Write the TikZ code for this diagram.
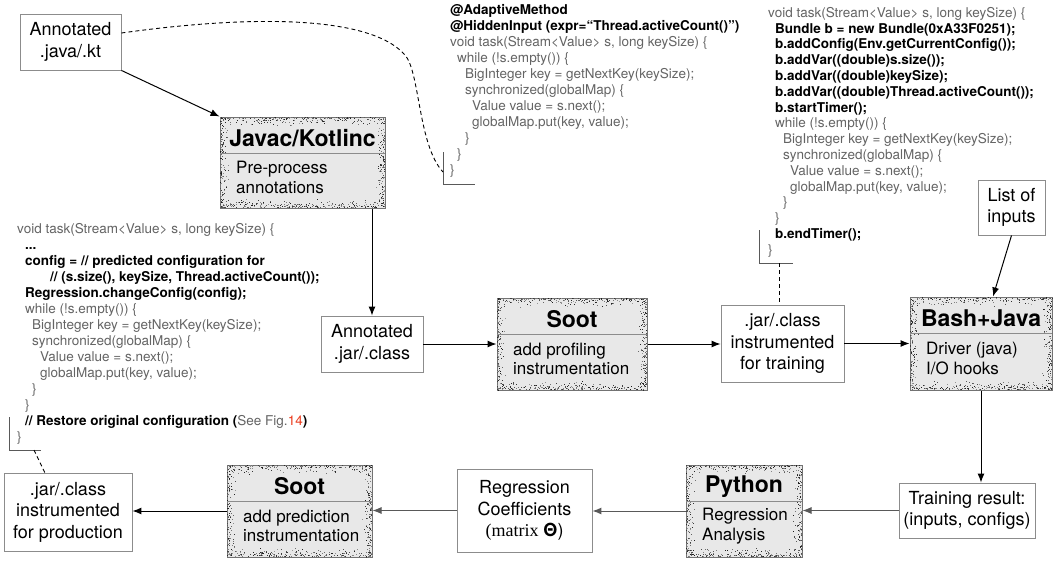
\documentclass[tikz,border=0pt]{standalone}
\usepackage{fontspec}
\setmainfont{TeX Gyre Heros}
\newfontfamily\seriffont{Liberation Serif}
\usetikzlibrary{arrows.meta,calc}
\definecolor{codegray}{RGB}{100,100,100}
\definecolor{figred}{RGB}{235,60,30}
\definecolor{boxborder}{RGB}{140,140,140}
\definecolor{shadefill}{RGB}{232,232,232}
\newcommand\cg[1]{{\color{codegray}#1}}
\newcommand\cb[1]{{\bfseries #1}}
\tikzset{
  plainbox/.style={draw=boxborder, line width=0.9pt, fill=white, align=center, inner sep=0pt, font=\fontsize{18}{21.5}\selectfont},
  shadebox/.style={draw=black!55, line width=1pt, fill=shadefill, inner sep=0pt},
  headtext/.style={font=\fontsize{23}{26}\selectfont\bfseries, inner sep=0pt},
  bodytext/.style={font=\fontsize{17}{19.5}\selectfont, align=left, inner sep=0pt, anchor=west},
  divline/.style={draw=black!45, line width=0.8pt},
  arr/.style={-{Latex[length=9pt,width=7pt]}, line width=1pt, draw=black},
  garr/.style={-{Latex[length=9pt,width=7pt]}, line width=1pt, draw=black!65},
  dashline/.style={dash pattern=on 4pt off 3pt, line width=0.9pt},
  bracket/.style={draw=black!65, line width=0.9pt},
  code/.style={align=left, inner sep=0pt, anchor=north west, font=\fontsize{13.5}{16}\selectfont},
}
\newcommand\grain[4]{%
  \pgfmathsetmacro\gw{#3-#1}\pgfmathsetmacro\gh{#4-#2}%
  \pgfmathtruncatemacro\nx{\gw*1.4}\pgfmathtruncatemacro\ny{\gh*1.4}%
  \foreach \k in {1,...,\nx}{%
    \pgfmathsetmacro\gx{#1+rnd*\gw}\pgfmathsetmacro\gd{rnd*rnd*9}\pgfmathtruncatemacro\gc{40+50*rnd}%
    \fill[black!\gc] (\gx,#2+\gd) rectangle ++(1,1);
    \pgfmathsetmacro\gx{#1+rnd*\gw}\pgfmathsetmacro\gd{rnd*rnd*9}\pgfmathtruncatemacro\gc{40+50*rnd}%
    \fill[black!\gc] (\gx,#4-\gd) rectangle ++(1,-1);
  }
  \foreach \k in {1,...,\ny}{%
    \pgfmathsetmacro\gy{#2+rnd*\gh}\pgfmathsetmacro\gd{rnd*rnd*9}\pgfmathtruncatemacro\gc{40+50*rnd}%
    \fill[black!\gc] (#1+\gd,\gy) rectangle ++(1,1);
    \pgfmathsetmacro\gy{#2+rnd*\gh}\pgfmathsetmacro\gd{rnd*rnd*9}\pgfmathtruncatemacro\gc{40+50*rnd}%
    \fill[black!\gc] (#3-\gd,\gy) rectangle ++(-1,1);
  }
}
\newcommand\shadednode[8]{%
  \pgfmathsetmacro\bw{#4-#2}%
  \pgfmathsetmacro\bh{#5-#3}%
  \pgfmathsetmacro\bcx{(#2+#4)/2}%
  \pgfmathsetmacro\bcy{(#3+#5)/2}%
  \node[shadebox, minimum width=\bw pt, minimum height=\bh pt] (#1) at (\bcx,\bcy) {};
  \grain{#2}{#3}{#4}{#5}
  \draw[divline] (#2,#6) -- (#4,#6);
  \pgfmathsetmacro\hy{(#3+#6)/2+3.5}%
  \node[headtext] (#1-head) at (\bcx,\hy) {#7};
  \pgfmathsetmacro\by{(#6+#5)/2-3}%
  \node[bodytext] (#1-body) at (#2+16,\by) {#8};
}
\begin{document}
\begin{tikzpicture}[x=1pt,y=-1pt]
\pgfmathsetseed{7}
\fill[white] (0,0) rectangle (1061,560);
\useasboundingbox (0,0) rectangle (1061,560);

% plain boxes
\node[plainbox, minimum width=101pt, minimum height=56pt] (ajava) at (70.5,42) {Annotated\\.java/.kt};
\node[plainbox, minimum width=102pt, minimum height=56pt] (ajar) at (372,344) {Annotated\\.jar/.class};
\node[plainbox, minimum width=123pt, minimum height=77pt] (train) at (782.5,343.5) {.jar/.class\\instrumented\\for training};
\node[plainbox, minimum width=67pt, minimum height=55pt] (list) at (1011.5,207.5) {List of\\inputs};
\node[plainbox, minimum width=136pt, minimum height=55pt] (result) at (967,510.5) {Training result:\\(inputs, configs)};
\node[plainbox, minimum width=135pt, minimum height=83pt] (regr) at (524.5,510.5) {Regression\\Coefficients\\{\seriffont(matrix} \textbf{Θ})};
\node[plainbox, minimum width=128pt, minimum height=78pt] (prod) at (68,512) {.jar/.class\\instrumented\\for production};

% shaded boxes
\shadednode{javac}{220}{117}{385}{208}{153}{Javac/Kotlinc}{Pre-process\\annotations}
\shadednode{sootA}{497}{298}{647}{390}{334}{Soot}{add profiling\\instrumentation}
\shadednode{bash}{910}{297}{1052}{390}{333}{Bash+Java}{Driver (java)\\I/O hooks}
\shadednode{sootB}{227}{465}{372}{557}{501}{Soot}{add prediction\\instrumentation}
\shadednode{python}{686}{465}{802}{557}{501}{Python}{Regression\\Analysis}

% code blocks
\node[code] (code2) at (450,4) {%
\cb{@AdaptiveMethod}\\
\cb{@HiddenInput (expr=“Thread.activeCount()”)}\\
\cg{void task(Stream\textless Value\textgreater\ s, long keySize) \{}\\
\hspace*{7pt}\cg{while (!s.empty()) \{}\\
\hspace*{15pt}\cg{BigInteger key = getNextKey(keySize);}\\
\hspace*{15pt}\cg{synchronized(globalMap) \{}\\
\hspace*{22pt}\cg{Value value = s.next();}\\
\hspace*{22pt}\cg{globalMap.put(key, value);}\\
\hspace*{15pt}\cg{\}}\\
\hspace*{7pt}\cg{\}}\\
\cg{\}}};

\node[code, font=\fontsize{13.5}{15.8}\selectfont] (code3) at (768,7) {%
\cg{void task(Stream\textless Value\textgreater\ s, long keySize) \{}\\
\hspace*{7pt}\cb{Bundle b = new Bundle(0xA33F0251);}\\
\hspace*{7pt}\cb{b.addConfig(Env.getCurrentConfig());}\\
\hspace*{7pt}\cb{b.addVar((double)s.size());}\\
\hspace*{7pt}\cb{b.addVar((double)keySize);}\\
\hspace*{7pt}\cb{b.addVar((double)Thread.activeCount());}\\
\hspace*{7pt}\cb{b.startTimer();}\\
\hspace*{7pt}\cg{while (!s.empty()) \{}\\
\hspace*{15pt}\cg{BigInteger key = getNextKey(keySize);}\\
\hspace*{15pt}\cg{synchronized(globalMap) \{}\\
\hspace*{22pt}\cg{Value value = s.next();}\\
\hspace*{22pt}\cg{globalMap.put(key, value);}\\
\hspace*{15pt}\cg{\}}\\
\hspace*{7pt}\cg{\}}\\
\hspace*{7pt}\cb{b.endTimer();}\\
\cg{\}}};

\node[code] (code1) at (17,223) {%
\cg{void task(Stream\textless Value\textgreater\ s, long keySize) \{}\\
\hspace*{8pt}\cb{...}\\
\hspace*{8pt}\cb{config = // predicted configuration for}\\
\hspace*{33pt}\cb{// (s.size(), keySize, Thread.activeCount());}\\
\hspace*{8pt}\cb{Regression.changeConfig(config);}\\
\hspace*{8pt}\cg{while (!s.empty()) \{}\\
\hspace*{15pt}\cg{BigInteger key = getNextKey(keySize);}\\
\hspace*{15pt}\cg{synchronized(globalMap) \{}\\
\hspace*{23pt}\cg{Value value = s.next();}\\
\hspace*{23pt}\cg{globalMap.put(key, value);}\\
\hspace*{15pt}\cg{\}}\\
\hspace*{8pt}\cg{\}}\\
\hspace*{8pt}\cb{// Restore original configuration (}\cg{See Fig.}{\color{figred}14}\cb{)}\\
\cg{\}}};

% brackets
\draw[bracket] (443,152) -- (443,184) -- (475,184);
\coordinate (b2) at (443,172);
\draw[bracket] (759,230) -- (759,263) -- (793,263);
\coordinate (b3) at (779,263);
\draw[bracket] (9,417) -- (9,450) -- (41,450);
\coordinate (b1) at (34,450);
\coordinate (p1) at (45,473);

% dashed connectors
\draw[dashline] ([yshift=9pt]ajava.east) .. controls (250,15) and (370,15) .. (405,55) .. controls (420,72) and (418,145) .. (b2);
\draw[dashline] (b3) -- (b3 |- train.north);
\draw[dashline] (b1) -- (p1);

% arrows
\draw[arr] (ajava.south east) -- (javac.north west);
\draw[arr] (ajar.north |- javac.south) -- (ajar.north);
\draw[arr] (ajar.east) -- (sootA.west);
\draw[arr] (sootA.east) -- (sootA.east -| train.west);
\draw[arr] (train.east) -- (train.east -| bash.west);
\draw[arr] (list.south) -- ([xshift=12pt]bash.north);
\draw[arr] (bash.south) -- (bash.south |- result.north);
\draw[garr] (result.west) -- (result.west -| python.east);
\draw[garr] (python.west) -- (python.west -| regr.east);
\draw[garr] (regr.west) -- (regr.west -| sootB.east);
\draw[arr] (sootB.west) -- (sootB.west -| prod.east);
\end{tikzpicture}
\end{document}
